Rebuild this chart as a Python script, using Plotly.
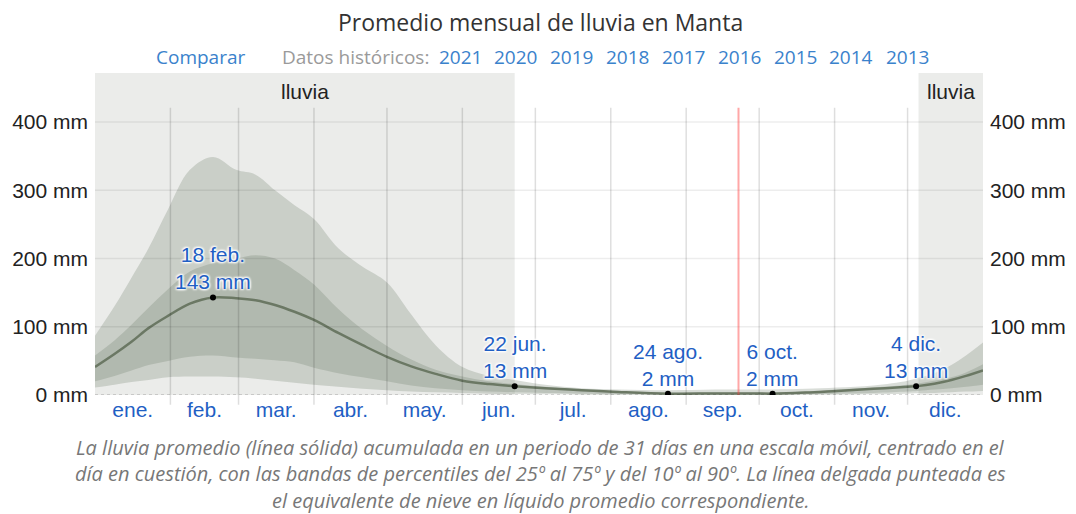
import plotly.graph_objects as go

# ---------------- data ----------------
days = [0, 8, 15, 22, 30, 39, 48.5, 58, 66, 74, 82, 90, 100, 110, 120, 130, 140, 151,
        162, 172.5, 185, 200, 215, 235.5, 255, 270, 278.5, 292, 305, 320, 334, 338,
        345, 352, 358, 365]
mean_mm = [41, 60, 78, 98, 116, 134, 143, 142, 139, 132, 122, 110, 91, 73, 56, 42, 31, 21,
           16, 13, 10, 7, 4.5, 2, 2.3, 2.3, 2, 3.5, 6, 9, 12, 13,
           16.5, 22, 28, 36]
p90_mm = [87, 130, 172, 215, 272, 330, 349, 330, 323, 300, 278, 258, 215, 188, 165, 118, 73, 41,
          28, 22, 15, 10, 8, 7, 8, 8, 8, 9, 11, 14, 21, 25,
          32, 44, 58, 77]
p75_mm = [58, 80, 103, 128, 155, 181, 193, 200, 205, 200, 183, 162, 126, 96, 72, 52, 37, 27,
          20, 16, 12, 8, 5, 3, 3.5, 3.5, 3.5, 5, 8, 11, 15, 17,
          21, 26, 33, 45]
p25_mm = [20, 28, 36, 44, 50, 56, 58, 55, 53, 51, 48, 40, 32, 26, 20, 14, 10, 7,
          5, 4, 3, 2, 1, 0.5, 0.5, 0.5, 0.5, 1, 2, 3, 5, 6,
          8, 10, 12, 15]
p10_mm = [11, 15, 19, 22, 26, 27, 27, 26, 24, 21, 18, 15, 12, 9, 7, 5, 4, 3,
          2, 1.5, 1, 0.5, 0.3, 0.2, 0.2, 0.2, 0.2, 0.3, 0.5, 1, 2, 2.5,
          3, 4, 5, 6]

month_labels = ["ene.", "feb.", "mar.", "abr.", "may.", "jun.", "jul.", "ago.", "sep.", "oct.", "nov.", "dic."]
month_starts = [0, 31, 59, 90, 120, 151, 181, 212, 243, 273, 304, 334, 365]
y_ticks = [0, 100, 200, 300, 400]
y_ticktext = ["0 mm", "100 mm", "200 mm", "300 mm", "400 mm"]

hl_days = [48.5, 172.5, 235.5, 278.5, 337.5]
hl_mm = [143, 13, 2, 2, 13]
hl_text = ["18 feb.<br>143 mm", "22 jun.<br>13 mm", "24 ago.<br>2 mm", "6 oct.<br>2 mm", "4 dic.<br>13 mm"]

wet_periods = [(0, 172.5), (338.5, 365)]
today_day = 264.5
years = ["2021", "2020", "2019", "2018", "2017", "2016", "2015", "2014", "2013"]

# ---------------- layout geometry ----------------
W, H = 1076, 514
PL, PR, PT, PB = 95, 983, 73, 395          # plot box in screen pixels
L, R, T, B = PL, W - PR, PT, H - PB
YMAX = 472
GRID_TOP = 421


def py(pix):  # screen y -> paper y
    return (PB - pix) / (PB - PT)


def px(pix):  # screen x -> paper x
    return (pix - PL) / (PR - PL)


BLUE = "#1f5fc4"
LINKBLUE = "#3a82cc"
BAND = "rgba(105,118,98,0.25)"
SANS = "Liberation Sans, Arial"

fig = go.Figure()

fig.add_trace(go.Scatter(x=days, y=p10_mm, mode="lines", line=dict(width=0, shape="spline"),
                         hoverinfo="skip", showlegend=False))
fig.add_trace(go.Scatter(x=days, y=p90_mm, mode="lines", line=dict(width=0, shape="spline"),
                         fill="tonexty", fillcolor=BAND, hoverinfo="skip", showlegend=False))
fig.add_trace(go.Scatter(x=days, y=p25_mm, mode="lines", line=dict(width=0, shape="spline"),
                         hoverinfo="skip", showlegend=False))
fig.add_trace(go.Scatter(x=days, y=p75_mm, mode="lines", line=dict(width=0, shape="spline"),
                         fill="tonexty", fillcolor=BAND, hoverinfo="skip", showlegend=False))
fig.add_trace(go.Scatter(x=days, y=mean_mm, mode="lines", line=dict(width=2.5, color="#6b7864", shape="spline"),
                         showlegend=False))
fig.add_trace(go.Scatter(x=hl_days, y=hl_mm, mode="markers", marker=dict(size=6, color="black"),
                         showlegend=False))
fig.add_trace(go.Scatter(x=[0], y=[0], yaxis="y2", mode="markers", marker=dict(opacity=0),
                         hoverinfo="skip", showlegend=False))

shapes = []
for a, b in wet_periods:
    shapes.append(dict(type="rect", xref="x", yref="paper", x0=a, x1=b, y0=0, y1=1,
                       fillcolor="#ebecea", line=dict(width=0), layer="below"))
for v in y_ticks[1:]:
    shapes.append(dict(type="line", xref="paper", yref="y", x0=0, x1=1, y0=v, y1=v,
                       line=dict(color="rgba(0,0,0,0.07)", width=1.5), layer="above"))
for d in month_starts[1:-1]:
    shapes.append(dict(type="line", xref="x", yref="paper", x0=d, x1=d, y0=-0.03, y1=GRID_TOP / YMAX,
                       line=dict(color="rgba(0,0,0,0.13)", width=1.5), layer="above"))
shapes.append(dict(type="line", xref="x", yref="paper", x0=today_day, x1=today_day, y0=0, y1=GRID_TOP / YMAX,
                   line=dict(color="rgba(255,60,60,0.45)", width=2), layer="above"))
shapes.append(dict(type="line", xref="paper", yref="y", x0=0, x1=1, y0=0, y1=0,
                   line=dict(color="rgba(0,0,0,0.3)", width=1, dash="dot"), layer="above"))

halo = "1px 1px 2px white, -1px -1px 2px white, 1px -1px 2px white, -1px 1px 2px white"
annotations = []
for d, v, t in zip(hl_days, hl_mm, hl_text):
    annotations.append(dict(x=d, y=v, xref="x", yref="y", text=t, showarrow=False,
                            xanchor="center", yanchor="bottom", yshift=2,
                            font=dict(family=SANS, size=21, color=BLUE, shadow=halo)))
for a, b in wet_periods:
    annotations.append(dict(x=(a + b) / 2, y=py(92), xref="x", yref="paper", text="lluvia",
                            showarrow=False, xanchor="center", yanchor="middle",
                            font=dict(family=SANS, size=21, color="#222")))
annotations.append(dict(x=px(540), y=py(22), xref="paper", yref="paper", showarrow=False,
                        text="Promedio mensual de lluvia en Manta", xanchor="center", yanchor="middle",
                        font=dict(family="Open Sans", size=23, color="#333")))
annotations.append(dict(x=px(200), y=py(57), xref="paper", yref="paper", showarrow=False,
                        text="Comparar", xanchor="center", yanchor="middle",
                        font=dict(family="Open Sans", size=19, color=LINKBLUE)))
annotations.append(dict(x=px(431), y=py(57), xref="paper", yref="paper", showarrow=False,
                        text="Datos históricos:", yanchor="middle", xanchor="right",
                        font=dict(family="Open Sans", size=19, color="#9a9a9a")))
for i, yr in enumerate(years):
    annotations.append(dict(x=px(460 + i * 55.9), y=py(57), xref="paper", yref="paper", showarrow=False,
                            text=yr, xanchor="center", yanchor="middle",
                            font=dict(family="Open Sans", size=19, color=LINKBLUE)))
caption = ["La lluvia promedio (línea sólida) acumulada en un periodo de 31 días en una escala móvil, centrado en el",
           "día en cuestión, con las bandas de percentiles del 25º al 75º y del 10º al 90º. La línea delgada punteada es",
           "el equivalente de nieve en líquido promedio correspondiente."]
for i, line in enumerate(caption):
    annotations.append(dict(x=px(540), y=py(447 + i * 26.5), xref="paper", yref="paper", showarrow=False,
                            text="<i>" + line + "</i>", xanchor="center", yanchor="middle",
                            font=dict(family="Open Sans", size=20, color="#777")))

tick_mid = [(month_starts[i] + month_starts[i + 1]) / 2 for i in range(12)]

fig.update_layout(
    width=W, height=H,
    margin=dict(l=L, r=R, t=T, b=B, autoexpand=False),
    paper_bgcolor="white", plot_bgcolor="white",
    showlegend=False,
    xaxis=dict(range=[0, 365], tickvals=tick_mid, ticktext=month_labels, showgrid=False, zeroline=False,
               showline=False, ticks="", automargin=False,
               tickfont=dict(family=SANS, size=21, color=BLUE), fixedrange=True),
    yaxis=dict(range=[0, YMAX], tickvals=y_ticks, ticktext=y_ticktext, showgrid=False, zeroline=False,
               showline=False, ticks="", ticklabelstandoff=6, automargin=False,
               tickfont=dict(family=SANS, size=21, color="#222"), fixedrange=True),
    yaxis2=dict(range=[0, YMAX], tickvals=y_ticks, ticktext=y_ticktext, overlaying="y", side="right",
                showgrid=False, zeroline=False, showline=False, ticks="", ticklabelstandoff=6,
                automargin=False,
                tickfont=dict(family=SANS, size=21, color="#222"), fixedrange=True),
    shapes=shapes,
    annotations=annotations,
)

# remove the default 8px page margin so the 1076x514 figure fills the window exactly
fig.write_html("out.html", config={"displayModeBar": False},
               post_script="document.body.style.margin='0';")
